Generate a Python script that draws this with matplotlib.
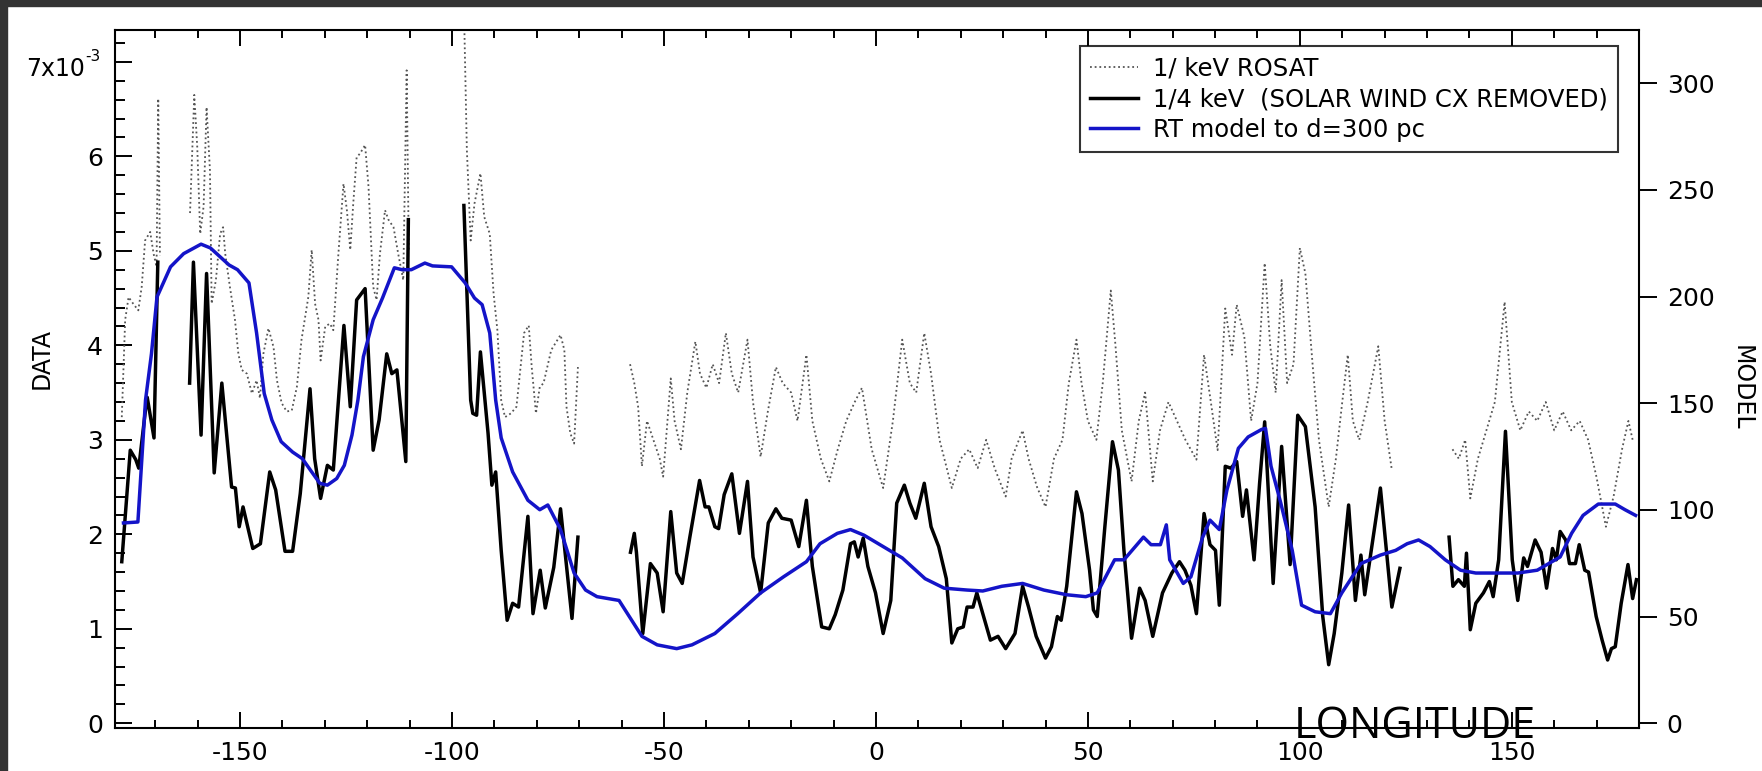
import numpy as np
import matplotlib
matplotlib.use("Agg")
import matplotlib.pyplot as plt
from matplotlib.ticker import FixedLocator, FixedFormatter, MultipleLocator
import matplotlib.patches as mpatches

plt.rcParams['font.family'] = ['DejaVu Sans']
plt.rcParams['mathtext.default'] = 'regular'
plt.rcParams['axes.unicode_minus'] = False

nan = np.nan

# ---------------- data ----------------
# ROSAT 1/4 keV (dotted), units 1e-3 ; NaN marks gaps in coverage
rosat_lon = [-177.9, -177.1, -176.3, -175.2, -174.0, -173.2, -172.4, -171.2, -170.4, -169.7, -169.3, -168.9,
             -165.0,
             -161.8, -160.8, -160.1, -159.4, -158.6, -157.9, -157.1, -156.7, -155.7, -154.7, -154.0, -153.5,
             -152.4, -151.2, -150.4, -149.6, -148.4, -147.2, -146.1, -145.3, -144.5, -143.3, -142.1, -141.3,
             -140.2, -139.0, -137.8, -136.6, -135.5, -133.9, -133.1, -132.3, -131.5, -131.0, -129.9, -128.8,
             -128.0, -126.8, -125.6, -124.8, -124.0, -123.3, -122.5, -121.7, -120.5, -119.7, -118.6, -117.8,
             -117.0, -115.8, -115.0, -113.8, -112.7, -111.5, -110.7, -110.2,
             -104.0,
             -97.2, -96.5, -95.6, -94.7, -93.3, -92.4, -91.1, -90.2, -89.3, -88.4, -87.5, -86.1, -84.8, -83.0,
             -81.9, -81.2, -80.2, -79.3, -78.4, -76.6, -74.4, -73.5, -73.0, -72.1, -71.2, -70.3,
             -64.0,
             -58.0, -57.0, -56.1, -55.2, -54.0, -52.5, -51.0, -50.2, -49.0, -48.4, -47.5, -46.0, -44.5, -42.6,
             -41.5, -40.0, -38.5, -37.0, -35.4, -34.0, -32.5, -30.3, -29.0, -27.2, -25.5, -23.6, -22.0, -20.0,
             -18.5, -16.4, -15.0, -13.0, -11.0, -9.0, -7.0, -5.0, -3.3, -1.0, 1.7, 4.0, 6.2, 8.0, 9.5, 11.4,
             13.0, 15.0, 17.9, 20.0, 22.0, 24.0, 26.0, 28.0, 30.6, 32.0, 34.6, 36.0, 38.0, 40.0, 42.0, 44.0,
             45.5, 47.3, 48.5, 50.0, 52.0, 53.5, 55.4, 56.5, 58.0, 60.3, 62.0, 63.5, 65.3, 67.0, 69.0, 71.0,
             73.0, 75.6, 77.4, 79.0, 80.6, 82.4, 84.0, 85.1, 86.9, 88.5, 90.0, 91.7, 93.0, 94.3, 95.7, 97.0,
             98.5, 100.0, 101.3, 103.0, 104.5, 106.8, 108.5, 110.0, 111.3, 112.5, 114.0, 116.0, 118.5, 120.0,
             121.7,
             129.0,
             136.0, 137.5, 139.0, 140.2, 142.0, 144.0, 146.0, 148.3, 150.0, 152.0, 154.0, 156.0, 158.0, 160.0,
             162.0, 164.0, 166.0, 168.0, 170.0, 172.2, 174.0, 176.0, 177.5, 178.5]
rosat_val = [3.24, 4.27, 4.51, 4.44, 4.37, 4.62, 5.11, 5.20, 4.97, 4.83, 6.61, 4.95,
             nan,
             5.40, 6.65, 6.10, 5.18, 5.47, 6.52, 5.85, 4.44, 4.69, 5.18, 5.25, 4.97,
             4.62, 4.27, 3.91, 3.74, 3.70, 3.49, 3.63, 3.44, 3.91, 4.18, 3.98, 3.63,
             3.39, 3.30, 3.31, 3.56, 4.06, 4.51, 5.01, 4.44, 4.27, 3.84, 4.20, 4.23,
             4.16, 4.97, 5.71, 5.43, 5.01, 5.50, 5.99, 6.03, 6.12, 5.68, 4.62, 4.48,
             4.97, 5.43, 5.33, 5.25, 4.97, 4.69, 6.91, 5.00,
             nan,
             7.60, 6.07, 5.11, 5.50, 5.82, 5.36, 5.18, 4.55, 4.16, 3.42, 3.24, 3.28, 3.35, 4.13,
             4.21, 3.77, 3.28, 3.56, 3.60, 3.95, 4.11, 3.95, 3.35, 3.07, 2.96, 3.77,
             nan,
             3.80, 3.60, 3.35, 2.72, 3.20, 3.00, 2.80, 2.61, 3.30, 3.65, 3.20, 2.90, 3.50, 4.04,
             3.70, 3.55, 3.80, 3.60, 4.13, 3.70, 3.50, 4.06, 3.40, 2.82, 3.30, 3.77, 3.60, 3.50,
             3.20, 3.90, 3.20, 2.80, 2.56, 2.90, 3.20, 3.40, 3.55, 2.90, 2.49, 3.20, 4.06, 3.60, 3.50, 4.13,
             3.70, 3.00, 2.49, 2.80, 2.90, 2.70, 3.00, 2.70, 2.40, 2.80, 3.10, 2.80, 2.50, 2.29, 2.80, 3.00,
             3.60, 4.06, 3.60, 3.20, 3.00, 3.60, 4.58, 4.00, 3.10, 2.56, 3.20, 3.50, 2.56, 3.10, 3.40, 3.20,
             3.00, 2.79, 3.90, 3.40, 2.89, 4.39, 3.90, 4.43, 4.09, 3.20, 3.60, 4.87, 4.00, 3.50, 4.69, 3.60,
             3.80, 5.03, 4.76, 3.80, 3.00, 2.29, 2.80, 3.40, 3.90, 3.20, 3.00, 3.40, 3.99, 3.20,
             2.68,
             nan,
             2.90, 2.80, 3.00, 2.38, 2.80, 3.10, 3.40, 4.46, 3.40, 3.10, 3.30, 3.20, 3.40, 3.10,
             3.30, 3.10, 3.20, 3.00, 2.60, 2.08, 2.40, 2.90, 3.20, 3.00]

# 1/4 keV with solar-wind CX removed (black), units 1e-3
swcx_lon = [-177.9, -175.9, -174.6, -173.9, -172.3, -171.9, -170.3, -169.4,
            -165.0,
            -161.9, -161.0, -159.2, -157.9, -156.1, -154.3, -152.0, -151.1, -150.2, -149.3, -147.0, -145.2,
            -143.0, -141.6, -139.4, -137.6, -135.8, -133.5, -132.4, -131.0, -129.4, -128.0, -125.5, -124.0,
            -122.5, -120.5, -118.6, -117.2, -115.4, -114.2, -113.0, -110.9, -110.3,
            -104.0,
            -97.2, -95.6, -95.1, -94.2, -93.3, -91.5, -90.6, -89.7, -88.4, -87.0, -85.7, -84.3, -82.1, -80.9,
            -79.2, -78.0, -76.0, -74.4, -71.7, -70.3,
            -64.0,
            -57.9, -57.0, -56.5, -55.0, -53.2, -51.6, -50.2, -48.4, -47.0, -45.7, -43.9, -41.6, -40.3, -39.4,
            -38.0, -37.1, -35.8, -34.0, -32.2, -30.3, -29.0, -27.2, -25.4, -23.6, -22.2, -20.0, -18.2, -16.4,
            -15.0, -12.8, -11.0, -9.6, -7.8, -6.0, -5.1, -4.2, -3.0, -1.9, -0.1, 1.7, 3.5, 4.9, 6.7, 8.0,
            9.4, 11.4, 13.0, 14.8, 16.6, 17.9, 19.3, 20.6, 21.5, 22.9, 23.8, 25.2, 27.0, 28.8, 30.6, 32.8,
            34.6, 36.0, 37.8, 40.0, 41.4, 42.8, 43.7, 45.0, 47.3, 48.6, 50.4, 51.3, 52.2, 54.0, 55.8, 57.2,
            58.5, 60.3, 62.2, 63.5, 65.3, 67.6, 69.8, 71.6, 72.9, 74.3, 75.6, 77.4, 78.8, 80.1, 81.0, 82.4,
            83.7, 85.1, 86.5, 87.4, 89.2, 90.5, 91.7, 93.7, 95.7, 97.7, 99.5, 101.3, 103.6, 105.4, 106.8,
            108.1, 109.9, 111.5, 113.1, 114.4, 115.3, 119.0, 121.7, 123.6,
            129.0,
            135.2, 136.1, 137.4, 138.8, 139.3, 140.2, 141.5, 143.3, 144.7, 145.6, 146.9, 148.5, 150.1, 151.4,
            152.8, 153.7, 155.5, 156.9, 158.2, 159.6, 160.5, 161.4, 162.7, 163.6, 165.0, 165.9, 167.2, 168.1,
            169.9, 171.3, 172.6, 173.5, 174.4, 175.8, 177.4, 178.5, 179.4]
swcx_val = [1.71, 2.89, 2.79, 2.70, 3.32, 3.45, 3.02, 4.88,
            nan,
            3.60, 4.88, 3.05, 4.76, 2.65, 3.60, 2.50, 2.49, 2.08, 2.29, 1.85, 1.90,
            2.66, 2.47, 1.82, 1.82, 2.43, 3.54, 2.80, 2.38, 2.73, 2.68, 4.21, 3.35,
            4.48, 4.60, 2.89, 3.21, 3.91, 3.70, 3.74, 2.77, 5.33,
            nan,
            5.48, 3.42, 3.28, 3.26, 3.93, 3.07, 2.52, 2.66, 1.83, 1.09, 1.27, 1.23, 2.19, 1.16,
            1.62, 1.22, 1.65, 2.27, 1.11, 1.97,
            nan,
            1.81, 2.01, 1.81, 0.95, 1.69, 1.59, 1.18, 2.24, 1.59, 1.48, 1.97, 2.57, 2.29, 2.29,
            2.08, 2.06, 2.42, 2.64, 2.01, 2.56, 1.76, 1.38, 2.12, 2.27, 2.17, 2.15, 1.87, 2.36,
            1.66, 1.02, 1.00, 1.15, 1.41, 1.90, 1.92, 1.76, 1.96, 1.66, 1.38, 0.95, 1.30, 2.33, 2.52, 2.33,
            2.17, 2.54, 2.08, 1.87, 1.53, 0.85, 1.00, 1.02, 1.23, 1.23, 1.38, 1.16, 0.88, 0.92, 0.79, 0.95,
            1.45, 1.23, 0.92, 0.69, 0.81, 1.13, 1.09, 1.45, 2.45, 2.22, 1.62, 1.20, 1.13, 2.08, 2.98, 2.68,
            1.83, 0.90, 1.43, 1.30, 0.92, 1.38, 1.59, 1.71, 1.62, 1.46, 1.16, 2.22, 1.89, 1.83, 1.25, 2.72,
            2.70, 2.77, 2.19, 2.47, 1.73, 2.54, 3.19, 1.48, 2.93, 1.68, 3.26, 3.14, 2.29, 1.13, 0.62,
            0.95, 1.59, 2.31, 1.30, 1.78, 1.36, 2.49, 1.23, 1.64,
            nan,
            1.97, 1.45, 1.52, 1.45, 1.80, 0.99, 1.27, 1.38, 1.50, 1.34, 1.73, 3.09, 1.73, 1.30,
            1.75, 1.66, 1.94, 1.81, 1.43, 1.85, 1.73, 2.03, 1.94, 1.69, 1.69, 1.89, 1.62, 1.60,
            1.13, 0.88, 0.67, 0.79, 0.81, 1.27, 1.68, 1.32, 1.52]

# RT model to d = 300 pc (blue), read in left-axis units then scaled to the right (MODEL) axis
model_lon = [-177.5, -174.1, -172.3, -170.9, -169.6, -166.4, -163.3, -159.2, -157.0, -152.6, -150.6,
             -147.9, -146.1, -144.3, -142.5, -140.3, -137.6, -135.3, -133.1, -131.2, -129.4, -127.2,
             -125.4, -123.6, -122.2, -120.9, -118.6, -116.4, -113.6, -111.8, -109.6, -106.4, -104.6,
             -100.1, -96.9, -94.7, -92.9, -91.1, -89.7, -88.4, -85.7, -82.1, -79.3, -77.4, -74.4, -71.2,
             -68.5, -65.8, -60.6, -55.2, -51.6, -47.0, -43.4, -38.0, -32.6, -27.2, -21.8, -16.4, -13.2,
             -9.1, -6.0, -2.8, 1.7, 6.2, 11.6, 16.1, 21.5, 25.2, 29.7, 34.6, 39.6, 45.0, 49.5, 52.2,
             56.3, 58.5, 63.1, 64.9, 67.1, 68.5, 69.3, 72.5, 74.3, 77.0, 78.8, 81.0, 82.8, 85.5, 87.8,
             91.0, 91.9, 93.2, 95.5, 98.2, 100.4, 103.6, 107.2, 109.9, 114.4, 119.0, 122.6, 125.3,
             128.0, 130.7, 134.3, 137.9, 141.5, 146.0, 151.4, 156.0, 161.4, 164.1, 166.8, 170.4,
             174.4, 176.7, 179.2]
model_data = [2.12, 2.13, 3.42, 3.91, 4.51, 4.83, 4.97, 5.07, 5.03, 4.85, 4.80,
              4.66, 4.13, 3.49, 3.21, 2.98, 2.87, 2.80, 2.66, 2.54, 2.52, 2.59,
              2.73, 3.05, 3.42, 3.88, 4.27, 4.50, 4.82, 4.80, 4.80, 4.87, 4.84,
              4.83, 4.66, 4.50, 4.43, 4.13, 3.42, 3.02, 2.66, 2.36, 2.26, 2.31, 2.05, 1.59,
              1.41, 1.34, 1.30, 0.92, 0.83, 0.79, 0.83, 0.95, 1.16, 1.38, 1.55, 1.71, 1.90,
              2.01, 2.05, 1.99, 1.87, 1.75, 1.53, 1.43, 1.41, 1.40, 1.45, 1.48, 1.41, 1.36, 1.34, 1.38,
              1.73, 1.73, 1.97, 1.89, 1.89, 2.10, 1.73, 1.48, 1.55, 1.96, 2.15, 2.05, 2.47, 2.91, 3.03,
              3.11, 3.12, 2.72, 2.33, 1.83, 1.25, 1.18, 1.16, 1.38, 1.69, 1.78, 1.83, 1.90,
              1.94, 1.87, 1.73, 1.62, 1.59, 1.59, 1.59, 1.62, 1.76, 2.01, 2.20, 2.32,
              2.32, 2.26, 2.20]
MODEL_PER_DATA = 44.3
model_val = [v * MODEL_PER_DATA for v in model_data]

labels = ["1/ keV ROSAT", "1/4 keV  (SOLAR WIND CX REMOVED)", "RT model to d=300 pc"]
data_ticks = [0, 1, 2, 3, 4, 5, 6, 7]
data_ticklabels = ["0", "1", "2", "3", "4", "5", "6", ""]
model_ticks = [0, 50, 100, 150, 200, 250, 300]
lon_ticks = [-150, -100, -50, 0, 50, 100, 150]

# ---------------- figure ----------------
W, H = 1762, 771
fig = plt.figure(figsize=(W / 100, H / 100), dpi=100)
# dark frame at top/left of the original screenshot
fig.patches.append(mpatches.Rectangle((0, 0), 6.5 / W, 1, transform=fig.transFigure,
                                      color='#333333', zorder=10))
fig.patches.append(mpatches.Rectangle((0, 1 - 6 / H), 1, 6 / H, transform=fig.transFigure,
                                      color='#333333', zorder=10))

L, R, T, B = 115, 1639, 30, 728.3
ax = fig.add_axes([L / W, 1 - B / H, (R - L) / W, (B - T) / H])
ax2 = ax.twinx()

blue = '#1414c8'
l1, = ax.plot(rosat_lon, rosat_val, color='#555555', lw=1.3, linestyle=(0, (1, 1.6)))
l2, = ax.plot(swcx_lon, swcx_val, color='black', lw=2.5)
l3, = ax2.plot(model_lon, model_val, color=blue, lw=2.5)

ax.set_xlim(-179.5, 180)
ax.set_ylim(-0.053, 7.337)
ax2.set_ylim(-0.053 * MODEL_PER_DATA, 325.0)

for sp in ax.spines.values():
    sp.set_linewidth(1.5)
for sp in ax2.spines.values():
    sp.set_visible(False)

ax.xaxis.set_major_locator(FixedLocator(lon_ticks))
ax.xaxis.set_minor_locator(MultipleLocator(10))
ax.yaxis.set_major_locator(FixedLocator(data_ticks))
ax.yaxis.set_major_formatter(FixedFormatter(data_ticklabels))
ax.yaxis.set_minor_locator(MultipleLocator(0.2))
ax.tick_params(axis='x', which='both', direction='in', top=True, bottom=True, width=1.4, labelsize=18, pad=9)
ax.tick_params(axis='x', which='major', length=11.5)
ax.tick_params(axis='x', which='minor', length=5.5)
ax.tick_params(axis='y', which='both', direction='in', left=True, right=False, width=1.4, labelsize=18, pad=8.5)
ax.tick_params(axis='y', which='major', length=12)
ax.tick_params(axis='y', which='minor', length=7.5)

# top tick label "7x10^-3" (drawn as two texts like the original)
ax.annotate('7x10', xy=(0, 7), xycoords=('axes fraction', 'data'), xytext=(-30 * 0.72, -7 * 0.72),
            textcoords='offset points', fontsize=17, ha='right', va='center')
ax.annotate('-3', xy=(0, 7), xycoords=('axes fraction', 'data'), xytext=(-15 * 0.72, 5 * 0.72),
            textcoords='offset points', fontsize=11, ha='right', va='center')

ax2.yaxis.set_major_locator(FixedLocator(model_ticks))
ax2.tick_params(axis='y', which='major', direction='out', length=13, width=1.4, labelsize=18, pad=7)
ax2.tick_params(axis='y', which='minor', right=False)

ax.set_ylabel('DATA', fontsize=17)
ax.yaxis.set_label_coords((54 - L) / (R - L), 0.53)
ax2.set_ylabel('MODEL', fontsize=17, rotation=270, va='center')
ax2.yaxis.set_label_coords((1742 - L) / (R - L), 0.487)

leg = ax.legend([l1, l2, l3], labels, loc='upper right', bbox_to_anchor=((1618 - L) / (R - L), (B - 46) / (B - T)),
                fontsize=17.5, frameon=True, fancybox=False, handlelength=1.97, handletextpad=0.62,
                labelspacing=0.28, borderpad=0.42, borderaxespad=0)
leg.get_frame().set_edgecolor('black')
leg.get_frame().set_linewidth(1.5)
leg.set_zorder(5)

fig.text(1415 / W, 1 - 738 / H, 'LONGITUDE', fontsize=31, family='Open Sans', ha='center', va='baseline',
         color='black', zorder=20)

fig.savefig('out.png', dpi=100)
